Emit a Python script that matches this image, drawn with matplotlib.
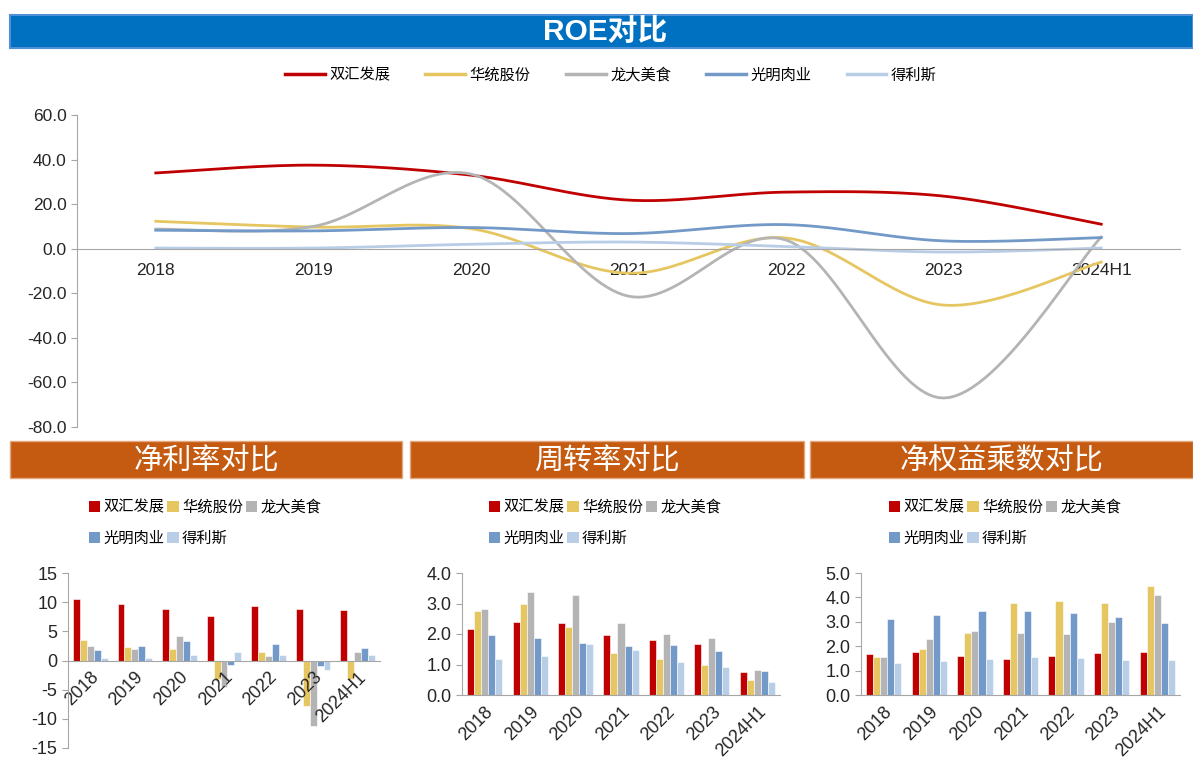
import numpy as np
import matplotlib
matplotlib.use("Agg")
import matplotlib.pyplot as plt
from matplotlib.patches import Rectangle, Patch
from matplotlib.lines import Line2D

plt.rcParams['font.family'] = ['Liberation Sans', 'Noto Sans CJK SC', 'DejaVu Sans']
CJK = ['Noto Sans CJK SC', 'DejaVu Sans']

# 数据
years = ['2018', '2019', '2020', '2021', '2022', '2023', '2024H1']
companies = ['双汇发展', '华统股份', '龙大美食', '光明肉业', '得利斯']
colors = ['#C00000', '#E6C660', '#B4B4B4', '#7399C8', '#B8CDE6']

roe_shuanghui = [34.0, 37.5, 33.0, 21.8, 25.4, 23.6, 11.0]
roe_huatong = [12.3, 9.7, 9.0, -11.0, 4.8, -25.3, -6.0]
roe_longda = [8.8, 10.0, 33.5, -21.3, 3.9, -67.0, 5.2]
roe_guangming = [8.3, 8.0, 9.5, 6.8, 10.8, 3.5, 5.0]
roe_delisi = [0.3, 0.3, 2.0, 3.0, 1.0, -1.5, 0.3]

margin_shuanghui = [10.6, 9.7, 8.8, 7.6, 9.3, 8.8, 8.6]
margin_huatong = [3.5, 2.3, 2.0, -3.2, 1.5, -7.8, -3.2]
margin_longda = [2.5, 2.0, 4.2, -4.5, 0.8, -11.3, 1.5]
margin_guangming = [1.8, 2.5, 3.3, -0.7, 2.8, -0.9, 2.2]
margin_delisi = [0.45, 0.45, 0.9, 1.4, 0.9, -1.7, 0.9]

turn_shuanghui = [2.17, 2.40, 2.36, 1.96, 1.81, 1.68, 0.77]
turn_huatong = [2.75, 2.99, 2.23, 1.39, 1.19, 1.00, 0.48]
turn_longda = [2.82, 3.37, 3.27, 2.36, 2.00, 1.88, 0.83]
turn_guangming = [1.96, 1.88, 1.71, 1.62, 1.64, 1.45, 0.80]
turn_delisi = [1.19, 1.29, 1.68, 1.49, 1.09, 0.93, 0.44]

em_shuanghui = [1.68, 1.77, 1.59, 1.49, 1.59, 1.73, 1.77]
em_huatong = [1.57, 1.89, 2.54, 3.76, 3.84, 3.76, 4.45]
em_longda = [1.57, 2.30, 2.62, 2.54, 2.50, 2.99, 4.08]
em_guangming = [3.11, 3.27, 3.43, 3.43, 3.35, 3.19, 2.95]
em_delisi = [1.32, 1.41, 1.49, 1.57, 1.53, 1.45, 1.45]

roe = [roe_shuanghui, roe_huatong, roe_longda, roe_guangming, roe_delisi]
margin = [margin_shuanghui, margin_huatong, margin_longda, margin_guangming, margin_delisi]
turn = [turn_shuanghui, turn_huatong, turn_longda, turn_guangming, turn_delisi]
em = [em_shuanghui, em_huatong, em_longda, em_guangming, em_delisi]

W, H = 1193, 758


def fx(px):
    return px / W


def fy(py):
    return 1 - py / H


# Excel风格的平滑曲线 (Bezier)
def smooth(xs, ys, n=30):
    pts = np.column_stack([xs, ys]).astype(float)
    out = []
    for i in range(len(pts) - 1):
        p0 = pts[i - 1] if i > 0 else pts[i]
        p1 = pts[i]
        p2 = pts[i + 1]
        p3 = pts[i + 2] if i + 2 < len(pts) else pts[i + 1]
        c1 = p1 + (p2 - p0) / 6
        c2 = p2 - (p3 - p1) / 6
        t = np.linspace(0, 1, n)[:, None]
        seg = (1 - t) ** 3 * p1 + 3 * (1 - t) ** 2 * t * c1 + 3 * (1 - t) * t ** 2 * c2 + t ** 3 * p2
        out.append(seg if i == 0 else seg[1:])
    return np.vstack(out)


fig = plt.figure(figsize=(W / 100, H / 100), dpi=100)

# 标题栏
fig.patches.append(Rectangle((fx(10), fy(48)), fx(W - 10), 33 / H, transform=fig.transFigure,
                             facecolor='#0070C0', edgecolor='#4F8FD6', linewidth=1.5))
fig.text(0.507, fy(32), 'ROE对比', color='white', fontsize=21.5, fontweight='bold',
         ha='center', va='center', family=['Liberation Sans', 'Noto Sans CJK SC'])

banners = [(10, 402, '净利率对比'), (410, 804, '周转率对比'), (810, W, '净权益乘数对比')]
for x0, x1, txt in banners:
    fig.patches.append(Rectangle((fx(x0), fy(478)), fx(x1 - x0), 37 / H, transform=fig.transFigure,
                                 facecolor='#C55A11', edgecolor='#E3A77F', linewidth=1))
    fig.text(fx((x0 + x1) / 2), fy(461), txt, color='white', fontsize=21, ha='center', va='center',
             family=CJK)

# ROE 折线图
ax = fig.add_axes([fx(77), fy(427), fx(1103), 312 / H])
x = np.arange(len(years))
handles = []
for vals, c, name in zip(roe, colors, companies):
    s = smooth(x, vals)
    ax.plot(s[:, 0], s[:, 1], color=c, linewidth=2)
    handles.append(Line2D([0], [0], color=c, linewidth=2.5))
ax.spines['bottom'].set_position(('data', 0))
ax.set_xlim(-0.5, len(years) - 0.5)
ax.set_ylim(-80, 60)
ax.set_yticks(np.arange(-80, 61, 20))
ax.set_yticklabels([f'{v:.1f}' for v in np.arange(-80, 61, 20)])
ax.set_xticks(x)
ax.set_xticklabels(years)
ax.spines['top'].set_visible(False)
ax.spines['right'].set_visible(False)
for sp in ['left', 'bottom']:
    ax.spines[sp].set_color('#A6A6A6')
ax.tick_params(axis='x', length=0, pad=10, labelsize=12.5, colors='#262626')
ax.tick_params(axis='y', length=4, color='#A6A6A6', labelsize=12.5, colors='#262626')

fig.legend(handles, companies, loc='center', bbox_to_anchor=(0.512, fy(75)), ncol=5, frameon=False,
           prop={'family': CJK, 'size': 11}, handlelength=2.6, handletextpad=0.3, columnspacing=2.3)

# 三个柱状图
panels = [
    (margin, [68, 312], [573, 748], (-15, 15), np.arange(-15, 16, 5), '{:.0f}', True, 83),
    (turn, [462, 318], [573, 695], (0, 4), np.arange(0, 4.1, 1), '{:.1f}', False, 483),
    (em, [861, 319], [573, 695], (0, 5), np.arange(0, 5.1, 1), '{:.1f}', False, 883),
]
bw = 0.155
order = [0, 3, 1, 4, 2]
for data, (left, width), (top, bottom), ylim, yt, fmt, neg, legx in panels:
    bax = fig.add_axes([fx(left), fy(bottom), fx(width), (bottom - top) / H])
    for i, (vals, c) in enumerate(zip(data, colors)):
        bax.bar(x + (i - 2) * bw, vals, width=bw, color=c, edgecolor='white', linewidth=0.4)
    if neg:
        bax.spines['bottom'].set_position(('data', 0))
    bax.set_xlim(-0.5, len(years) - 0.5)
    bax.set_ylim(*ylim)
    bax.set_yticks(yt)
    bax.set_yticklabels([fmt.format(v) for v in yt])
    bax.set_xticks(x)
    bax.set_xticklabels(years, rotation=45, ha='right', rotation_mode='anchor')
    bax.spines['top'].set_visible(False)
    bax.spines['right'].set_visible(False)
    for sp in ['left', 'bottom']:
        bax.spines[sp].set_color('#A6A6A6')
    bax.tick_params(axis='x', length=0, pad=6, labelsize=13, colors='#262626')
    bax.tick_params(axis='y', length=4, color='#A6A6A6', labelsize=13, colors='#262626')

    ph = [Patch(facecolor=colors[k]) for k in order]
    pl = [companies[k] for k in order]
    fig.legend(ph, pl, loc='upper left', bbox_to_anchor=(fx(legx - 8), fy(485)), ncol=3, frameon=False,
               prop={'family': CJK, 'size': 11}, handlelength=0.75, handleheight=0.75,
               handletextpad=0.2, columnspacing=0.2, labelspacing=0.9)

fig.savefig('out.png', dpi=100)
